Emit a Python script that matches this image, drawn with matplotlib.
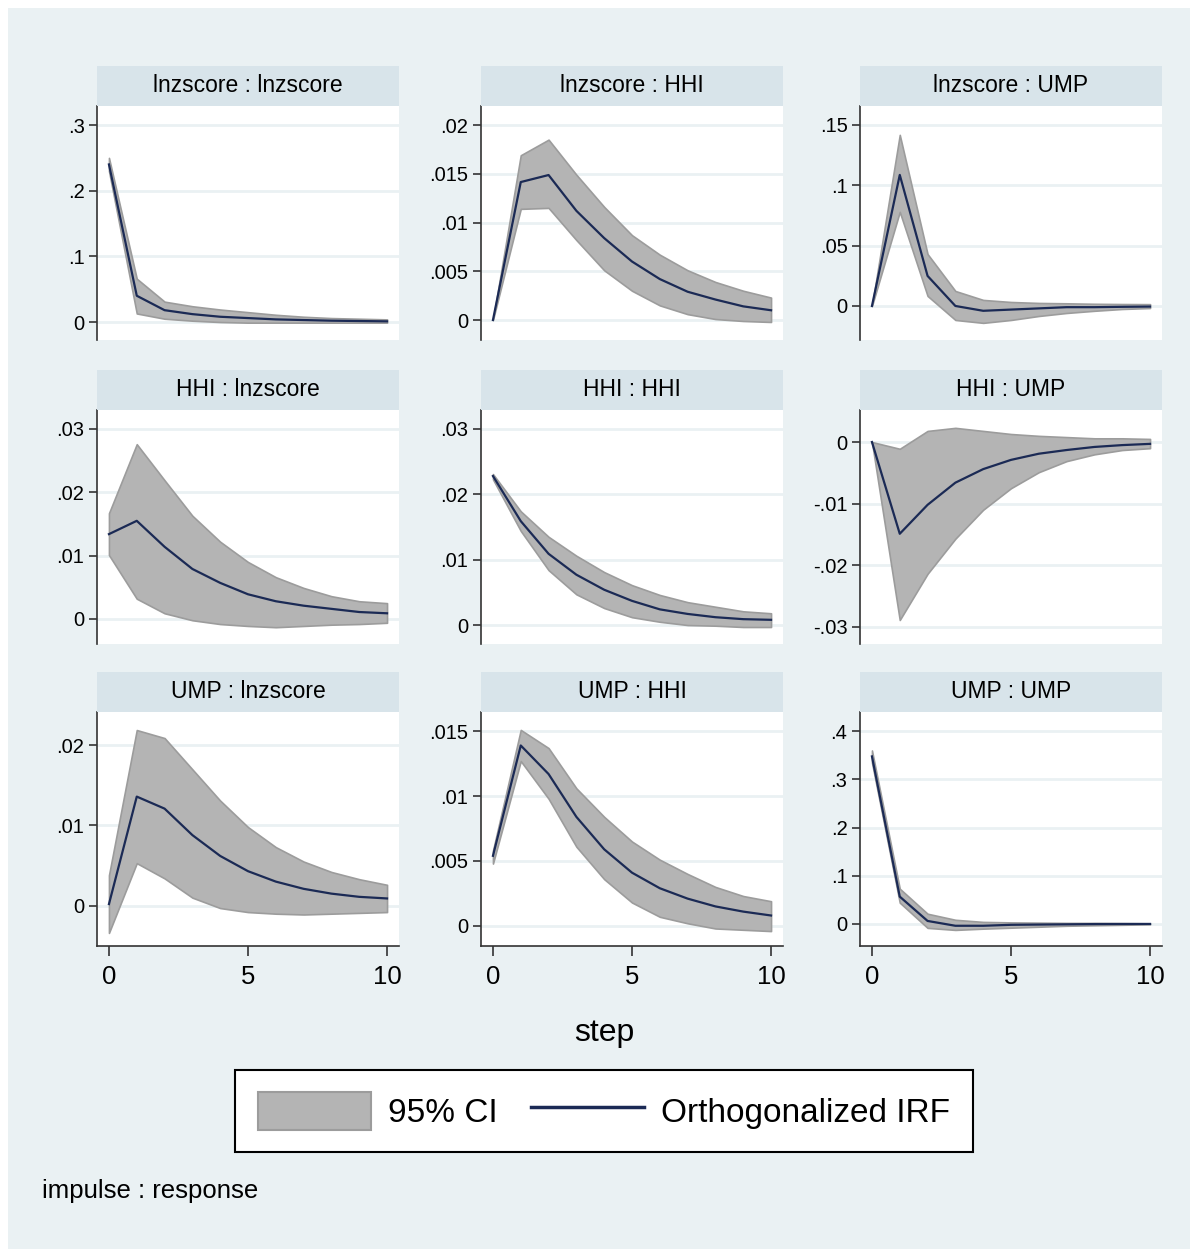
import matplotlib.pyplot as plt
from matplotlib.patches import Rectangle, Patch
from matplotlib.lines import Line2D

plt.rcParams['font.family'] = ['Liberation Sans', 'DejaVu Sans']

steps = list(range(11))
names = ["lnzscore", "HHI", "UMP"]

# irf / upper / lower, keyed by (impulse, response)
irf = {
    ("lnzscore", "lnzscore"): [0.240, 0.040, 0.018, 0.012, 0.008, 0.006, 0.004, 0.003, 0.002, 0.0015, 0.001],
    ("lnzscore", "HHI"): [0.0, 0.01415, 0.01487, 0.0112, 0.0084, 0.0060, 0.0042, 0.0029, 0.0021, 0.0014, 0.0010],
    ("lnzscore", "UMP"): [0.0, 0.1086, 0.0249, 0.0, -0.004, -0.003, -0.002, -0.001, -0.001, -0.0007, -0.0005],
    ("HHI", "lnzscore"): [0.0134, 0.0155, 0.0114, 0.0079, 0.0057, 0.0039, 0.0028, 0.0021, 0.0016, 0.0011, 0.0009],
    ("HHI", "HHI"): [0.0228, 0.0159, 0.0109, 0.0077, 0.0054, 0.0037, 0.0024, 0.0017, 0.0012, 0.0009, 0.0008],
    ("HHI", "UMP"): [0.0, -0.0149, -0.0102, -0.0066, -0.0044, -0.0029, -0.0019, -0.0013, -0.0008, -0.0005, -0.0003],
    ("UMP", "lnzscore"): [0.0002, 0.0136, 0.0121, 0.0088, 0.0062, 0.0043, 0.0030, 0.0021, 0.0015, 0.0011, 0.0009],
    ("UMP", "HHI"): [0.0054, 0.0139, 0.0117, 0.0084, 0.0059, 0.0041, 0.0029, 0.0021, 0.0015, 0.0011, 0.0008],
    ("UMP", "UMP"): [0.3476, 0.0565, 0.006, -0.004, -0.004, -0.002, -0.0015, -0.001, -0.0005, -0.0003, -0.0002],
}
upper = {
    ("lnzscore", "lnzscore"): [0.250, 0.066, 0.031, 0.024, 0.019, 0.015, 0.011, 0.008, 0.006, 0.005, 0.004],
    ("lnzscore", "HHI"): [0.0, 0.0169, 0.0185, 0.0149, 0.0116, 0.0087, 0.0067, 0.0051, 0.0039, 0.0030, 0.0023],
    ("lnzscore", "UMP"): [0.0, 0.1418, 0.043, 0.0124, 0.005, 0.0033, 0.0025, 0.0022, 0.0018, 0.0016, 0.0015],
    ("HHI", "lnzscore"): [0.0167, 0.0276, 0.0219, 0.0163, 0.0122, 0.0090, 0.0066, 0.0049, 0.0036, 0.0028, 0.0025],
    ("HHI", "HHI"): [0.0231, 0.0174, 0.0135, 0.0106, 0.0081, 0.0061, 0.0046, 0.0035, 0.0028, 0.0021, 0.0018],
    ("HHI", "UMP"): [0.0, -0.0011, 0.0018, 0.0023, 0.0018, 0.0013, 0.0010, 0.0008, 0.0006, 0.0006, 0.0005],
    ("UMP", "lnzscore"): [0.0038, 0.0219, 0.0209, 0.0170, 0.0131, 0.0098, 0.0073, 0.0055, 0.0042, 0.0033, 0.0026],
    ("UMP", "HHI"): [0.0058, 0.0151, 0.0137, 0.0106, 0.0084, 0.0065, 0.0051, 0.0040, 0.0030, 0.0023, 0.0019],
    ("UMP", "UMP"): [0.360, 0.073, 0.021, 0.0084, 0.004, 0.003, 0.0025, 0.002, 0.002, 0.0015, 0.001],
}
lower = {
    ("lnzscore", "lnzscore"): [0.230, 0.013, 0.005, 0.002, 0.0, -0.001, -0.001, -0.001, -0.001, -0.001, -0.001],
    ("lnzscore", "HHI"): [0.0, 0.0114, 0.0115, 0.0082, 0.0051, 0.0030, 0.0015, 0.0006, 0.0001, -0.0001, -0.0002],
    ("lnzscore", "UMP"): [0.0, 0.078, 0.0083, -0.0116, -0.014, -0.0116, -0.0083, -0.0058, -0.004, -0.0025, -0.0017],
    ("HHI", "lnzscore"): [0.0101, 0.0032, 0.0009, -0.0002, -0.0008, -0.0011, -0.0013, -0.0011, -0.0009, -0.0008, -0.0006],
    ("HHI", "HHI"): [0.0223, 0.0144, 0.0084, 0.0047, 0.0026, 0.0012, 0.0005, 0.0, -0.0001, -0.0003, -0.0003],
    ("HHI", "UMP"): [0.0, -0.0289, -0.0214, -0.0157, -0.0110, -0.0075, -0.0049, -0.0031, -0.0020, -0.0013, -0.0010],
    ("UMP", "lnzscore"): [-0.0034, 0.0053, 0.0034, 0.0010, -0.0003, -0.0008, -0.0010, -0.0011, -0.0010, -0.0009, -0.0008],
    ("UMP", "HHI"): [0.0048, 0.0127, 0.0098, 0.0061, 0.0036, 0.0018, 0.0007, 0.0002, -0.0002, -0.0003, -0.0004],
    ("UMP", "UMP"): [0.335, 0.044, -0.0084, -0.0126, -0.010, -0.008, -0.006, -0.004, -0.003, -0.002, -0.001],
}

# y ticks, tick labels and y range for each panel
yticks = {
    ("lnzscore", "lnzscore"): ([0, 0.1, 0.2, 0.3], ["0", ".1", ".2", ".3"], (-0.0274, 0.329)),
    ("lnzscore", "HHI"): ([0, 0.005, 0.01, 0.015, 0.02], ["0", ".005", ".01", ".015", ".02"], (-0.00205, 0.02195)),
    ("lnzscore", "UMP"): ([0, 0.05, 0.1, 0.15], ["0", ".05", ".1", ".15"], (-0.0282, 0.1657)),
    ("HHI", "lnzscore"): ([0, 0.01, 0.02, 0.03], ["0", ".01", ".02", ".03"], (-0.00395, 0.033)),
    ("HHI", "HHI"): ([0, 0.01, 0.02, 0.03], ["0", ".01", ".02", ".03"], (-0.0029, 0.0329)),
    ("HHI", "UMP"): ([-0.03, -0.02, -0.01, 0], ["-.03", "-.02", "-.01", "0"], (-0.0328, 0.0052)),
    ("UMP", "lnzscore"): ([0, 0.01, 0.02], ["0", ".01", ".02"], (-0.00503, 0.02415)),
    ("UMP", "HHI"): ([0, 0.005, 0.01, 0.015], ["0", ".005", ".01", ".015"], (-0.00155, 0.01648)),
    ("UMP", "UMP"): ([0, 0.1, 0.2, 0.3, 0.4], ["0", ".1", ".2", ".3", ".4"], (-0.046, 0.4398)),
}

BG = "#eaf1f3"
STRIP = "#d8e4ea"
BAND = "#b4b4b4"
BAND_EDGE = "#9c9c9c"
NAVY = "#1b2a55"
AXC = "#333333"

W, H = 1198, 1257
fig = plt.figure(figsize=(W / 100, H / 100), dpi=100, facecolor="white")
fig.patches.append(Rectangle((8 / W, 8 / H), (W - 16) / W, (H - 16) / H,
                             transform=fig.transFigure, facecolor=BG, edgecolor="none", zorder=-10))

col_left = [97, 481, 860]
col_w = 302
row_bottom = [340, 644, 946]
row_h = 234
strip_h = 40

for i, imp in enumerate(names):
    for j, resp in enumerate(names):
        key = (imp, resp)
        x0 = col_left[j]
        yb = row_bottom[i]
        ax = fig.add_axes([x0 / W, 1 - yb / H, col_w / W, row_h / H])
        ax.set_facecolor("white")
        # title strip
        fig.patches.append(Rectangle((x0 / W, 1 - (yb - row_h) / H), col_w / W, strip_h / H,
                                     transform=fig.transFigure, facecolor=STRIP, edgecolor="none"))
        fig.text((x0 + col_w / 2) / W, 1 - (yb - row_h - strip_h / 2) / H, f"{imp} : {resp}",
                 ha="center", va="center", fontsize=16.5, color="black")

        ax.fill_between(steps, lower[key], upper[key], facecolor=BAND, edgecolor=BAND_EDGE,
                        linewidth=1.2, zorder=2)
        ax.plot(steps, irf[key], color=NAVY, linewidth=1.6, zorder=3)

        ticks, labels, lim = yticks[key]
        ax.set_ylim(*lim)
        ax.set_xlim(-0.43, 10.43)
        ax.set_yticks(ticks)
        ax.set_yticklabels(labels, fontsize=14.5)
        ax.yaxis.grid(True, color=BG, linewidth=2, zorder=0)
        ax.set_axisbelow(True)
        for s in ["top", "right"]:
            ax.spines[s].set_visible(False)
        ax.spines["left"].set_color(AXC)
        ax.spines["left"].set_linewidth(1.2)
        ax.tick_params(axis="y", length=6, width=1.2, color=AXC, pad=3)
        if i == 2:
            ax.set_xticks([0, 5, 10])
            ax.set_xticklabels(["0", "5", "10"], fontsize=18.5)
            ax.spines["bottom"].set_color(AXC)
            ax.spines["bottom"].set_linewidth(1.2)
            ax.tick_params(axis="x", length=7, width=1.2, color=AXC, pad=7)
        else:
            ax.spines["bottom"].set_visible(False)
            ax.set_xticks([])

fig.text(604 / W, 1 - 1033 / H, "step", ha="center", va="center", fontsize=23)
fig.text(42 / W, 1 - 1191 / H, "impulse : response", ha="left", va="center", fontsize=18.5)

handles = [Patch(facecolor=BAND, edgecolor=BAND_EDGE, linewidth=1.5),
           Line2D([0], [0], color=NAVY, linewidth=2.5)]
leg = fig.legend(handles, ["95% CI", "Orthogonalized IRF"], loc="center",
                 bbox_to_anchor=(604 / W, 1 - 1111 / H), ncol=2, fontsize=24,
                 frameon=True, fancybox=False, edgecolor="black", framealpha=1,
                 handlelength=3.4, handleheight=1.35, columnspacing=1.0, handletextpad=0.5,
                 borderpad=0.68, borderaxespad=0)
leg.get_frame().set_linewidth(1.5)

fig.savefig("out.png", dpi=100, facecolor="white")
